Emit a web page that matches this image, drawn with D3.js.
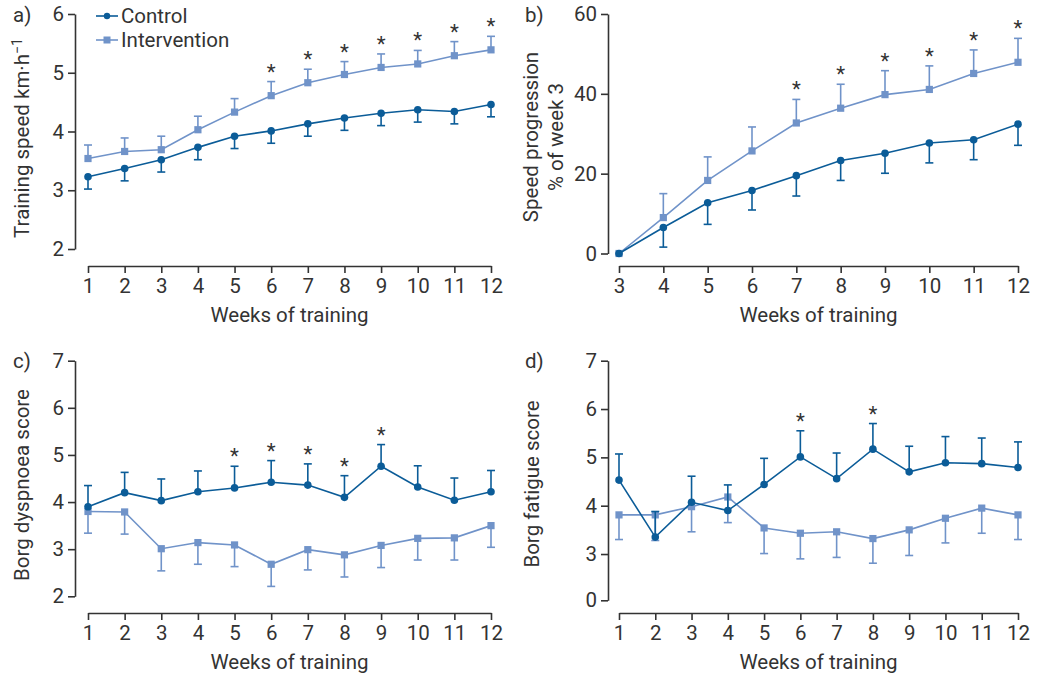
<!DOCTYPE html>
<html>
<head>
<meta charset="utf-8">
<script src="https://cdn.jsdelivr.net/npm/d3@7"></script>
<style>
  body { margin: 0; background: #fff; }
  svg text { font-family: Roboto, "DejaVu Sans", sans-serif; fill: #333; }
</style>
</head>
<body>
<div id="chart"></div>
<script>
// ---- data ----
const weeks = [1, 2, 3, 4, 5, 6, 7, 8, 9, 10, 11, 12];
const weeksB = [3, 4, 5, 6, 7, 8, 9, 10, 11, 12];

// a) training speed km/h
const speedControl = [3.23, 3.37, 3.52, 3.73, 3.92, 4.01, 4.13, 4.23, 4.31, 4.37, 4.34, 4.46];
const speedControlSd = [0.21, 0.21, 0.21, 0.21, 0.21, 0.21, 0.21, 0.21, 0.21, 0.21, 0.21, 0.21];
const speedInterv = [3.54, 3.66, 3.69, 4.03, 4.33, 4.61, 4.83, 4.97, 5.09, 5.15, 5.29, 5.39];
const speedIntervSd = [0.23, 0.23, 0.23, 0.23, 0.23, 0.24, 0.23, 0.22, 0.23, 0.23, 0.24, 0.23];
const speedSig = [6, 7, 8, 9, 10, 11, 12];

// b) speed progression, % of week 3
const progControl = [0, 6.5, 12.7, 15.8, 19.5, 23.3, 25.1, 27.7, 28.5, 32.4];
const progControlSd = [0, 4.9, 5.4, 4.9, 5.1, 5.0, 5.0, 5.0, 5.0, 5.3];
const progInterv = [0, 9.0, 18.3, 25.7, 32.7, 36.4, 39.8, 41.1, 45.1, 47.9];
const progIntervSd = [0, 6.0, 5.9, 6.0, 5.9, 6.0, 6.0, 5.9, 5.9, 6.0];
const progSig = [7, 8, 9, 10, 11, 12];

// c) Borg dyspnoea score
const dysControl = [3.90, 4.20, 4.03, 4.22, 4.30, 4.42, 4.36, 4.10, 4.76, 4.32, 4.04, 4.22];
const dysControlSd = [0.45, 0.43, 0.46, 0.44, 0.46, 0.46, 0.45, 0.46, 0.46, 0.45, 0.47, 0.45];
const dysInterv = [3.80, 3.79, 3.01, 3.14, 3.09, 2.68, 2.99, 2.88, 3.08, 3.23, 3.24, 3.50];
const dysIntervSd = [0.46, 0.47, 0.47, 0.46, 0.46, 0.47, 0.43, 0.47, 0.47, 0.46, 0.47, 0.46];
const dysSig = [5, 6, 7, 8, 9];

// d) Borg fatigue score
const fatControl = [4.53, 3.35, 4.07, 3.90, 4.44, 5.01, 4.56, 5.17, 4.70, 4.89, 4.87, 4.79];
const fatControlSd = [0.54, 0.53, 0.54, 0.53, 0.54, 0.54, 0.53, 0.53, 0.53, 0.54, 0.53, 0.53];
const fatInterv = [3.81, 3.81, 3.98, 4.18, 3.54, 3.43, 3.46, 3.32, 3.50, 3.74, 3.95, 3.81];
const fatIntervSd = [0.51, 0.53, 0.52, 0.53, 0.53, 0.53, 0.53, 0.51, 0.53, 0.51, 0.52, 0.51];
const fatSig = [6, 8];

const seriesNames = ["Control", "Intervention"];

const darkBlue = "#0b5c98";
const lightBlue = "#7093c9";
const axisColor = "#333";
const fontSize = "20.5px";

const W = 1048, H = 676;
const svg = d3.select("#chart").append("svg")
  .attr("width", W)
  .attr("height", H);

function drawPanel(cfg) {
  const g = svg.append("g");

  const x = d3.scaleLinear().domain(cfg.xDomain).range(cfg.xRange);
  const y = cfg.y;

  // y axis (offset from x axis, prism style)
  const yAxis = g.append("g")
    .attr("transform", "translate(" + cfg.yAxisX + ",0)")
    .call(d3.axisLeft(y).tickValues(cfg.yTicks).tickFormat(d3.format("d"))
      .tickSize(7).tickSizeOuter(0).tickPadding(4));
  yAxis.selectAll("text").style("font-size", fontSize);

  // x axis
  const xAxis = g.append("g")
    .attr("transform", "translate(0," + cfg.xAxisY + ")")
    .call(d3.axisBottom(x).tickValues(cfg.xs).tickFormat(d3.format("d"))
      .tickSize(7).tickSizeOuter(0).tickPadding(5));
  xAxis.selectAll("text").style("font-size", fontSize);

  g.selectAll(".domain, .tick line")
    .attr("stroke", axisColor)
    .attr("stroke-width", 1.6);

  // x axis title
  g.append("text")
    .attr("x", (cfg.xRange[0] + cfg.xRange[1]) / 2)
    .attr("y", cfg.xAxisY + 56)
    .attr("text-anchor", "middle")
    .style("font-size", fontSize)
    .text("Weeks of training");

  // y axis title
  const yt = g.append("text")
    .attr("transform", "translate(" + cfg.yTitleX + "," + cfg.yTitleY + ") rotate(-90)")
    .attr("text-anchor", "middle")
    .style("font-size", fontSize);
  cfg.yTitle(yt);

  // panel letter
  g.append("text")
    .attr("x", cfg.letterX)
    .attr("y", cfg.letterY)
    .style("font-size", fontSize)
    .text(cfg.letter);

  const series = [
    {vals: cfg.intervention, sd: cfg.interventionSd, color: lightBlue, dir: cfg.intervDir, shape: "square"},
    {vals: cfg.control, sd: cfg.controlSd, color: darkBlue, dir: cfg.controlDir, shape: "circle"}
  ];

  series.forEach(s => {
    const pts = cfg.xs.map((w, i) => ({w: w, v: s.vals[i], sd: s.sd[i]}));

    // error bars (one-sided)
    const eb = g.append("g");
    eb.selectAll("line.bar").data(pts.filter(p => p.sd > 0)).enter().append("line")
      .attr("x1", p => x(p.w)).attr("x2", p => x(p.w))
      .attr("y1", p => y(p.v))
      .attr("y2", p => y(p.v + s.dir * p.sd))
      .attr("stroke", s.color).attr("stroke-width", 1.6);
    eb.selectAll("line.cap").data(pts.filter(p => p.sd > 0)).enter().append("line")
      .attr("x1", p => x(p.w) - 4).attr("x2", p => x(p.w) + 4)
      .attr("y1", p => y(p.v + s.dir * p.sd))
      .attr("y2", p => y(p.v + s.dir * p.sd))
      .attr("stroke", s.color).attr("stroke-width", 1.6);

    // line
    g.append("path")
      .datum(pts)
      .attr("fill", "none")
      .attr("stroke", s.color)
      .attr("stroke-width", 1.6)
      .attr("d", d3.line().x(p => x(p.w)).y(p => y(p.v)));

    // markers
    if (s.shape === "circle") {
      g.selectAll(null).data(pts).enter().append("circle")
        .attr("cx", p => x(p.w)).attr("cy", p => y(p.v)).attr("r", 3.8)
        .attr("fill", s.color);
    } else {
      g.selectAll(null).data(pts).enter().append("rect")
        .attr("x", p => x(p.w) - 3.6).attr("y", p => y(p.v) - 3.6)
        .attr("width", 7.2).attr("height", 7.2)
        .attr("fill", s.color);
    }
  });

  // significance asterisks above the upper error bar
  const sigVals = cfg.sigOn === "intervention" ? cfg.intervention : cfg.control;
  const sigSd = cfg.sigOn === "intervention" ? cfg.interventionSd : cfg.controlSd;
  g.selectAll(null).data(cfg.sig).enter().append("text")
    .attr("x", w => x(w))
    .attr("y", w => {
      const i = cfg.xs.indexOf(w);
      return y(sigVals[i] + sigSd[i]) - 3;
    })
    .attr("text-anchor", "middle")
    .style("font-size", fontSize)
    .text("*");

  return g;
}

// a)
const panelA = drawPanel({
  letter: "a)", letterX: 13, letterY: 22,
  xs: weeks, xDomain: [1, 12], xRange: [88, 491], xAxisY: 266,
  y: d3.scaleLinear().domain([2, 6]).range([249, 14]),
  yTicks: [2, 3, 4, 5, 6], yAxisX: 75,
  yTitleX: 29, yTitleY: 138,
  yTitle: t => {
    t.append("tspan").text("Training speed km\u00b7h");
    t.append("tspan").attr("dy", -7).style("font-size", "14px").text("\u22121");
  },
  control: speedControl, controlSd: speedControlSd, controlDir: -1,
  intervention: speedInterv, interventionSd: speedIntervSd, intervDir: 1,
  sig: speedSig, sigOn: "intervention"
});

// legend in panel a
const legend = panelA.append("g").attr("transform", "translate(96,0)");
seriesNames.forEach((name, i) => {
  const color = i === 0 ? darkBlue : lightBlue;
  const ly = 16 + i * 24;
  legend.append("line")
    .attr("x1", 0).attr("x2", 22).attr("y1", ly).attr("y2", ly)
    .attr("stroke", color).attr("stroke-width", 1.6);
  if (i === 0) {
    legend.append("circle").attr("cx", 11).attr("cy", ly).attr("r", 3.2).attr("fill", color);
  } else {
    legend.append("rect").attr("x", 7.5).attr("y", ly - 3.5).attr("width", 7).attr("height", 7).attr("fill", color);
  }
  legend.append("text")
    .attr("x", 25).attr("y", ly + 7)
    .style("font-size", fontSize)
    .text(name);
});

// b)
drawPanel({
  letter: "b)", letterX: 525, letterY: 22,
  xs: weeksB, xDomain: [3, 12], xRange: [619, 1018], xAxisY: 266,
  y: d3.scaleLinear().domain([0, 60]).range([253.5, 14]),
  yTicks: [0, 20, 40, 60], yAxisX: 608,
  yTitleX: 538, yTitleY: 137,
  yTitle: t => {
    t.append("tspan").attr("x", 0).attr("dy", 0).text("Speed progression");
    t.append("tspan").attr("x", 0).attr("dy", 25).text("% of week 3");
  },
  control: progControl, controlSd: progControlSd, controlDir: -1,
  intervention: progInterv, interventionSd: progIntervSd, intervDir: 1,
  sig: progSig, sigOn: "intervention"
});

// c)
drawPanel({
  letter: "c)", letterX: 13, letterY: 368,
  xs: weeks, xDomain: [1, 12], xRange: [88, 491], xAxisY: 613,
  y: d3.scaleLinear().domain([2, 7]).range([596.3, 360.7]),
  yTicks: [2, 3, 4, 5, 6, 7], yAxisX: 75,
  yTitleX: 29, yTitleY: 485,
  yTitle: t => t.text("Borg dyspnoea score"),
  control: dysControl, controlSd: dysControlSd, controlDir: 1,
  intervention: dysInterv, interventionSd: dysIntervSd, intervDir: -1,
  sig: dysSig, sigOn: "control"
});

// d)  broken axis: 0 then 3..7
drawPanel({
  letter: "d)", letterX: 525, letterY: 368,
  xs: weeks, xDomain: [1, 12], xRange: [619, 1018], xAxisY: 613,
  y: d3.scaleLinear().domain([0, 2.5, 7]).range([600.3, 578.2, 360.7]),
  yTicks: [0, 3, 4, 5, 6, 7], yAxisX: 608,
  yTitleX: 539, yTitleY: 484,
  yTitle: t => t.text("Borg fatigue score"),
  control: fatControl, controlSd: fatControlSd, controlDir: 1,
  intervention: fatInterv, interventionSd: fatIntervSd, intervDir: -1,
  sig: fatSig, sigOn: "control"
});
</script>
</body>
</html>
